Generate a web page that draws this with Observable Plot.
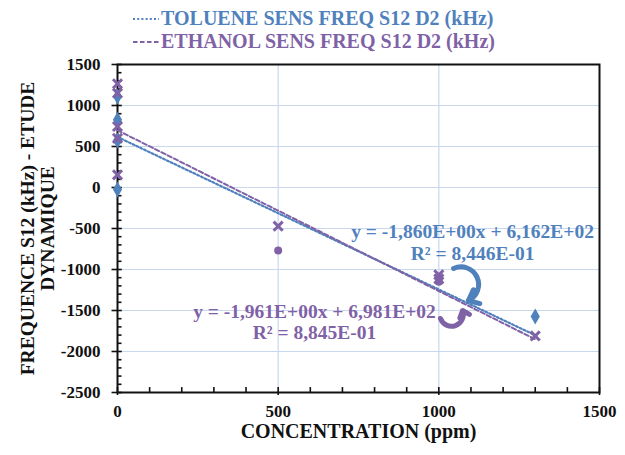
<!DOCTYPE html>
<html><head><meta charset="utf-8">
<script src="https://cdn.jsdelivr.net/npm/d3@7"></script>
<script src="https://cdn.jsdelivr.net/npm/@observablehq/plot@0.6"></script>
<style>
body{margin:0;background:#fff;}
#wrap{position:relative;width:625px;height:455px;font-family:"Liberation Serif",serif;font-weight:bold;}
#legend{position:relative;height:56px;width:625px;}
.lg{position:absolute;left:133px;display:flex;align-items:center;font-size:20px;white-space:nowrap;}
.lg svg{margin-right:2px;}
</style></head>
<body>
<div id="wrap">
 <div id="legend"></div>
 <div id="chart"></div>
</div>
<script>
// ---- data ----
const seriesNames = ["TOLUENE SENS FREQ S12 D2 (kHz)", "ETHANOL SENS FREQ S12 D2 (kHz)"];
const tolueneX = [0, 0, 0, 0, 1300];
const tolueneY = [1110, 826, 573, -24, -1573];
const ethanolX = [0, 0, 0, 0, 0, 500, 1000, 1000, 1300];
const ethanolY = [1265, 1150, 744, 600, 155, -472, -1065, -1115, -1810];
const circleX = [500, 1000];
const circleY = [-768, -1150];
const trendSlope = [-1.860, -1.961];
const trendIntercept = [616.2, 698.1];
const trendXRange = [0, 1300];
const eqText = ["y = -1,860E+00x + 6,162E+02\nR² = 8,446E-01", "y = -1,961E+00x + 6,981E+02\nR² = 8,845E-01"];
const eqX = [1105, 613];
const eqY = [-660, -1634];
const arrowX1 = [1046, 1005];
const arrowY1 = [-988, -1597];
const arrowX2 = [1092, 1074];
const arrowY2 = [-1378, -1500];
const xTicks = [0, 500, 1000, 1500];
const yTicks = [-2500, -2000, -1500, -1000, -500, 0, 500, 1000, 1500];
const xTitle = "CONCENTRATION (ppm)";
const yTitle = "FREQUENCE S12 (kHz) - ETUDE\nDYNAMIQUE";

const BLUE = "#4F81BD", PURPLE = "#7F62A6", GRID = "#C9D8EF";
const FONT = "Liberation Serif";

// ---- legend ----
const legend = document.getElementById("legend");
[[BLUE, "2,2.2", 2.2, 7], [PURPLE, "4.5,2.5", 2, 30]].forEach(([c, dash, w, top], i) => {
  const d = document.createElement("div");
  d.className = "lg";
  d.style.top = top + "px";
  d.style.color = c;
  d.innerHTML = `<svg width="26" height="22"><line x1="0" x2="26" y1="11" y2="11" stroke="${c}" stroke-width="${w}" stroke-dasharray="${dash}"/></svg><span>${seriesNames[i]}</span>`;
  legend.appendChild(d);
});

// ---- derived tables ----
const tol = tolueneX.map((x, i) => ({x, y: tolueneY[i]}));
const eth = ethanolX.map((x, i) => ({x, y: ethanolY[i]}));
const circ = circleX.map((x, i) => ({x, y: circleY[i]}));
const trends = trendSlope.flatMap((m, k) => trendXRange.map(x => ({k, x, y: m * x + trendIntercept[k]})));
const eqs = eqText.map((t, i) => ({t, x: eqX[i], y: eqY[i], c: i === 0 ? BLUE : PURPLE}));
const arrows = arrowX1.map((x1, i) => ({x1, y1: arrowY1[i], x2: arrowX2[i], y2: arrowY2[i]}));
const yMinor = d3.range(-2500, 1501, 100).filter(v => v % 500 !== 0);
const xMinor = d3.range(0, 1501, 100).filter(v => v % 500 !== 0);
const gridY = yTicks.filter(v => v > -2500 && v < 1500);
const gridX = xTicks.filter(v => v > 0 && v < 1500);
const fmt = d => String(d);

const chart = Plot.plot({
  width: 625, height: 399,
  marginTop: 8, marginBottom: 63, marginLeft: 117, marginRight: 26,
  style: {fontFamily: FONT, fontWeight: "bold", background: "white", overflow: "visible"},
  x: {domain: [0, 1500]},
  y: {domain: [-2500, 1500]},
  marks: [
    Plot.ruleY(gridY, {stroke: GRID, strokeWidth: 1.2}),
    Plot.ruleX(gridX, {stroke: GRID, strokeWidth: 1.2}),
    Plot.frame({stroke: "#111", strokeWidth: 2}),
    // y ticks
    Plot.ruleY(yMinor, {x1: 0, x2: 14, stroke: "#111", strokeWidth: 1.6}),
    Plot.ruleY(yTicks, {x1: -17, x2: 15, stroke: "#111", strokeWidth: 1.6}),
    // x ticks
    Plot.ruleX(xMinor, {y1: -2500, y2: -2440, stroke: "#111", strokeWidth: 1.6}),
    Plot.ruleX(xTicks, {y1: -2537, y2: -2440, stroke: "#111", strokeWidth: 1.6}),
    Plot.axisY(yTicks, {tickSize: 0, tickPadding: 17, tickFormat: fmt, fontSize: 17, fontWeight: "bold", fill: "#111", label: null}),
    Plot.axisX(xTicks, {tickSize: 0, tickPadding: 12, tickFormat: fmt, fontSize: 17, fontWeight: "bold", fill: "#111", label: null}),
    // trendlines
    Plot.line(trends.filter(d => d.k === 0), {x: "x", y: "y", stroke: BLUE, strokeWidth: 2.2, strokeDasharray: "2,2.2"}),
    Plot.line(trends.filter(d => d.k === 1), {x: "x", y: "y", stroke: PURPLE, strokeWidth: 2, strokeDasharray: "4.5,2.5"}),
    // points
    Plot.dot(tol, {x: "x", y: "y", symbol: "diamond", r: 4.8, fill: BLUE}),
    Plot.dot(circ, {x: "x", y: "y", symbol: "circle", r: 4, fill: PURPLE}),
    Plot.dot(eth, {x: "x", y: "y", symbol: "times", r: 4.2, stroke: PURPLE, strokeWidth: 3}),
    // equations
    Plot.text(eqs, {x: "x", y: "y", text: "t", fill: "c", fontSize: 19.5, fontWeight: "bold", lineHeight: 1.12, textAnchor: "middle"}),
    Plot.arrow(arrows.slice(0, 1), {x1: "x1", y1: "y1", x2: "x2", y2: "y2", stroke: BLUE, strokeWidth: 5, bend: 90, headLength: 9, headAngle: 80}),
    Plot.arrow(arrows.slice(1, 2), {x1: "x1", y1: "y1", x2: "x2", y2: "y2", stroke: PURPLE, strokeWidth: 5, bend: -150, headLength: 9, headAngle: 80}),
    // axis titles
    Plot.text([xTitle], {frameAnchor: "bottom", dy: 45, fontSize: 20, fontWeight: "bold", fill: "#111"}),
    Plot.text([yTitle], {frameAnchor: "left", dx: -80, rotate: -90, fontSize: 19.5, lineHeight: 1.05, fontWeight: "bold", fill: "#111", textAnchor: "middle"})
  ]
});
document.getElementById("chart").appendChild(chart);
</script>
</body></html>
